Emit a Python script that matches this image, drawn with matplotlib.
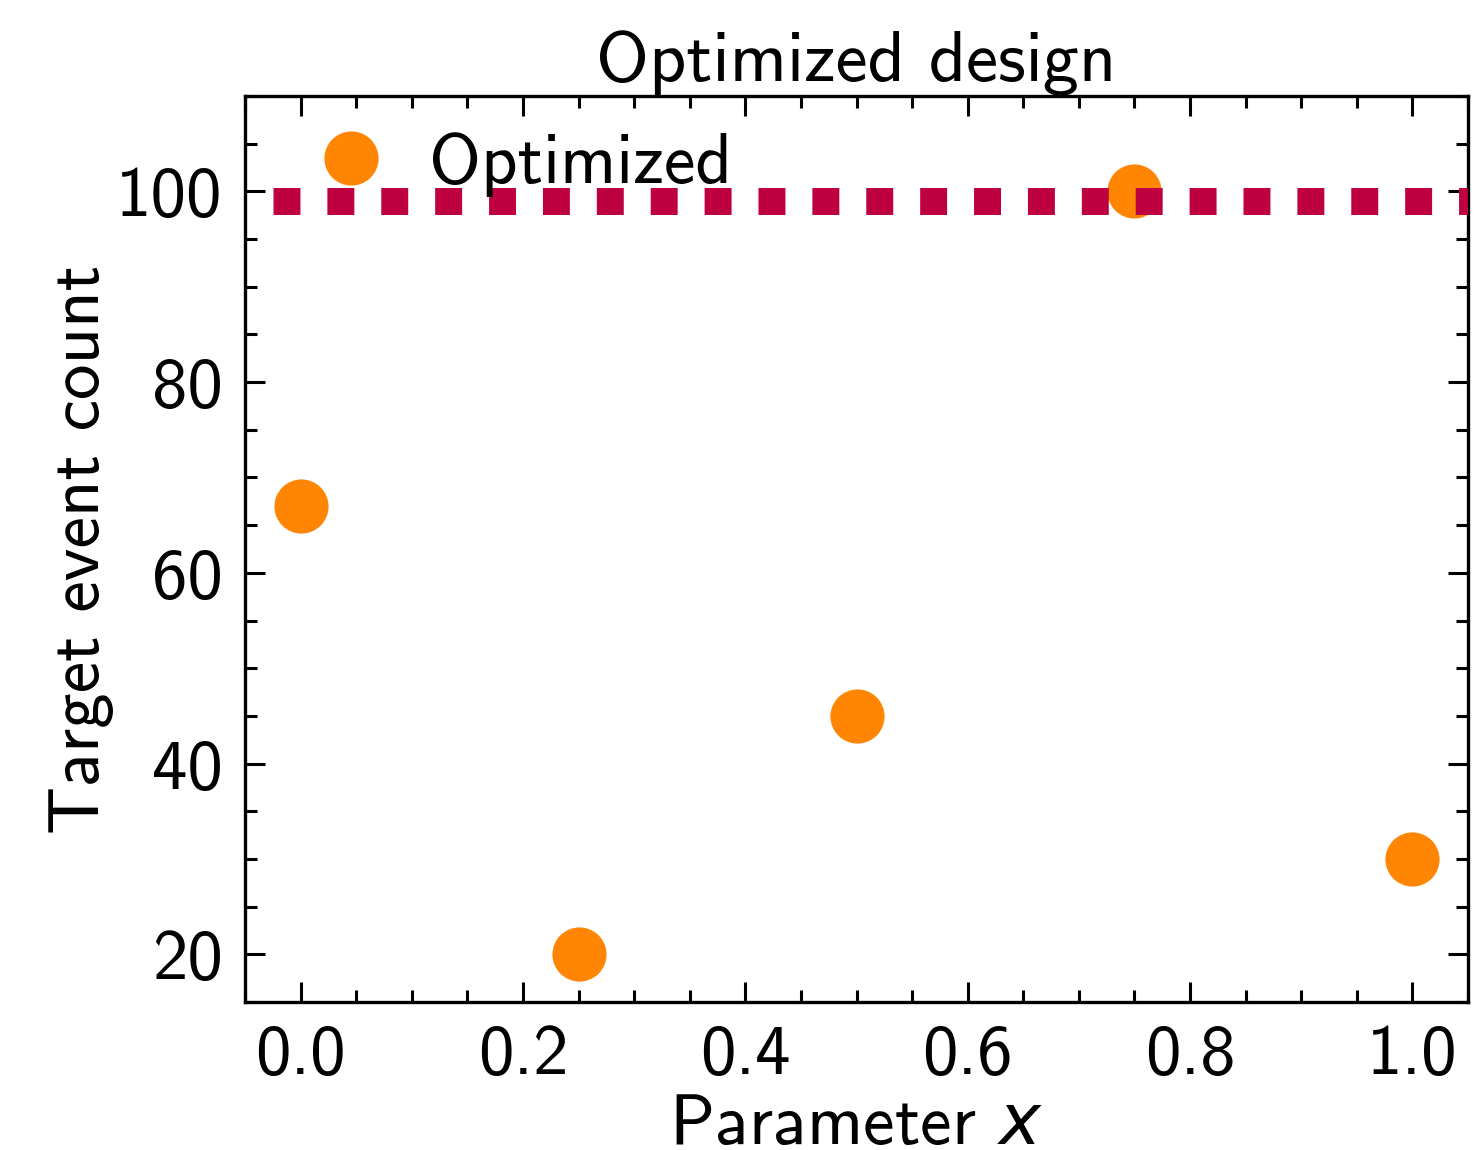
import matplotlib
matplotlib.use("Agg")
import matplotlib.pyplot as plt
from matplotlib.ticker import MultipleLocator

# Optimized design: target event count per parameter value
param_x = [0.0, 0.25, 0.5, 0.75, 1.0]
event_count = [67, 20, 45, 100, 30]
target_level = 99
line_start = -0.025
line_end = 1.05

plt.rcParams['font.family'] = ['cmss10', 'DejaVu Sans']
plt.rcParams['mathtext.fontset'] = 'custom'
plt.rcParams['mathtext.rm'] = 'cmss10'
plt.rcParams['mathtext.it'] = 'DejaVu Sans:italic'
plt.rcParams['axes.unicode_minus'] = False
plt.rcParams['font.size'] = 25


def create_plot(output_file):
    fig = plt.figure(figsize=(7.38, 5.75), dpi=200)
    ax = fig.add_axes([0.166, 0.1287, 0.8286, 0.7878])

    ax.plot(param_x, event_count, 'o', color='#FF8503', markersize=19.5,
            markeredgewidth=0, label='Optimized', zorder=2)
    ax.hlines(target_level, line_start, line_end, colors='#BE0040',
              linewidth=9.7, linestyle=(0, (1, 1)), zorder=3)

    ax.set_xlim(-0.05, 1.05)
    ax.set_ylim(15, 110)
    ax.xaxis.set_major_locator(MultipleLocator(0.2))
    ax.xaxis.set_minor_locator(MultipleLocator(0.05))
    ax.yaxis.set_major_locator(MultipleLocator(20))
    ax.yaxis.set_minor_locator(MultipleLocator(5))
    ax.tick_params(which='both', direction='in', top=True, right=True)
    ax.tick_params(which='major', length=7.2, width=1.1, pad=8,
                   labelsize=25.5)
    ax.tick_params(which='minor', length=4.3, width=1.1)
    for spine in ax.spines.values():
        spine.set_linewidth(1.2)

    ax.set_xlabel('Parameter $x$', fontsize=25.5, labelpad=2)
    ax.set_ylabel('Target event count', fontsize=25.5, labelpad=1)
    ax.set_title('Optimized design', fontsize=26, pad=5)

    leg = ax.legend(loc='upper left', bbox_to_anchor=(0.046, 0.976),
                    frameon=False, handlelength=1, handletextpad=0.6,
                    borderaxespad=0, borderpad=0.2, fontsize=25.5)
    leg.set_zorder(5)

    fig.savefig(output_file, dpi=200)


create_plot('out.png')
